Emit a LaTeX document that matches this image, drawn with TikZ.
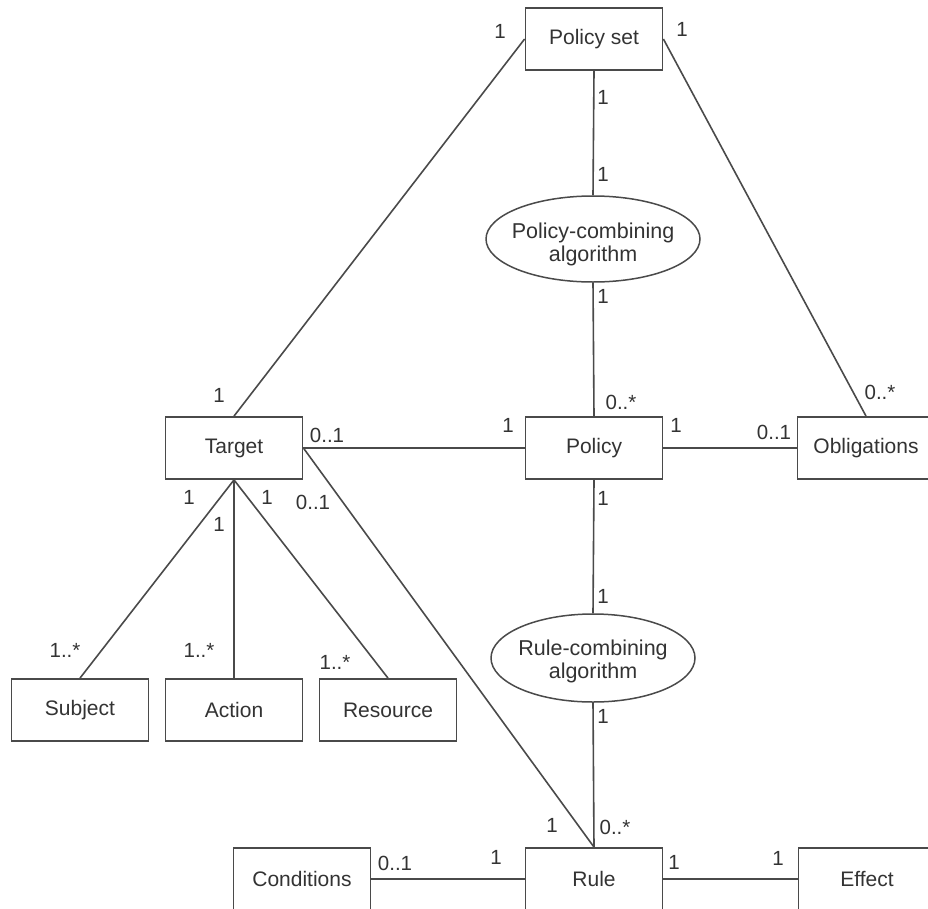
\documentclass[tikz,border=0pt]{standalone}
\usepackage{fontspec}
\setmainfont{Liberation Sans}
\usetikzlibrary{shapes.geometric}
\definecolor{edge}{HTML}{4A4A4A}
\definecolor{ink}{HTML}{333333}
\begin{document}
\begin{tikzpicture}[x=1pt,y=-1pt,
  entity/.style={draw=edge,line width=1.8pt,fill=white,minimum width=137pt,minimum height=62pt,inner sep=0pt,font=\fontsize{21}{24}\selectfont,text=ink},
  algo/.style={ellipse,draw=edge,line width=1.5pt,fill=white,inner sep=0pt},
  algotext/.style={align=center,inner sep=0pt,font=\fontsize{21.5}{23}\selectfont,text=ink},
  link/.style={draw=edge,line width=1.6pt},
  mult/.style={font=\fontsize{20.5}{23}\selectfont,text=ink,inner sep=0pt}]
\useasboundingbox (0,0) rectangle (928,908);
\begin{scope}
\clip (0,0) rectangle (928,908);
% classes and combining algorithms
\node[entity] (pset) at (594,39) {Policy set};
\node[algo,minimum width=214pt,minimum height=86pt,
  label={[algotext,yshift=-5pt]center:Policy-combining\\algorithm}] (pca) at (593,239) {};
\node[entity] (target) at (234,448) {Target};
\node[entity] (policy) at (594,448) {Policy};
\node[entity] (obl) at (866,448) {Obligations};
\node[algo,minimum width=204pt,minimum height=88pt,
  label={[algotext,yshift=-3pt]center:Rule-combining\\algorithm}] (rca) at (593,658) {};
\node[entity] (subject) at (80,710) {Subject};
\node[entity] (action) at (234,710) {Action};
\node[entity] (resource) at (388,710) {Resource};
\node[entity] (cond) at (302,879) {Conditions};
\node[entity] (rule) at (594,879) {Rule};
\node[entity] (effect) at (867,879) {Effect};
\end{scope}
% associations
\draw[link] (target.north) -- (pset.west);
\draw[link] (pset.east) -- (obl.north);
\draw[link] (pset.south) -- (pca.north);
\draw[link] (pca.south) -- (policy.north);
\draw[link] (target.east) -- (policy.west);
\draw[link] (policy.east) -- (obl.west);
\draw[link] (policy.south) -- (rca.north);
\draw[link] (rca.south) -- (rule.north);
\draw[link] (target.east) -- (rule.north);
\draw[link] (target.south) -- (subject.north);
\draw[link] (target.south) -- (action.north);
\draw[link] (target.south) -- (resource.north);
\draw[link] (cond.east) -- (rule.west);
\draw[link] (rule.east) -- (effect.west);
% multiplicities
\node[mult] (m1) at (500,31) {1};
\node[mult] (m2) at (682,29) {1};
\node[mult] (m3) at (603,97) {1};
\node[mult] (m4) at (603,174) {1};
\node[mult] (m5) at (603,296) {1};
\node[mult] (m6) at (621,402) {0..*};
\node[mult] (m7) at (219,395) {1};
\node[mult] (m8) at (327,435) {0..1};
\node[mult] (m9) at (508,425) {1};
\node[mult] (m10) at (676,425) {1};
\node[mult] (m11) at (774,432) {0..1};
\node[mult] (m12) at (880,392) {0..*};
\node[mult] (m13) at (189,497) {1};
\node[mult] (m14) at (219,524) {1};
\node[mult] (m15) at (267,497) {1};
\node[mult] (m16) at (313,502) {0..1};
\node[mult] (m17) at (603,498) {1};
\node[mult] (m18) at (603,596) {1};
\node[mult] (m19) at (603,716) {1};
\node[mult] (m20) at (65,650) {1..*};
\node[mult] (m21) at (199,650) {1..*};
\node[mult] (m22) at (335,662) {1..*};
\node[mult] (m23) at (552,825) {1};
\node[mult] (m24) at (615,827) {0..*};
\node[mult] (m25) at (395,863) {0..1};
\node[mult] (m26) at (496,857) {1};
\node[mult] (m27) at (674,862) {1};
\node[mult] (m28) at (778,858) {1};
\end{tikzpicture}
\end{document}
